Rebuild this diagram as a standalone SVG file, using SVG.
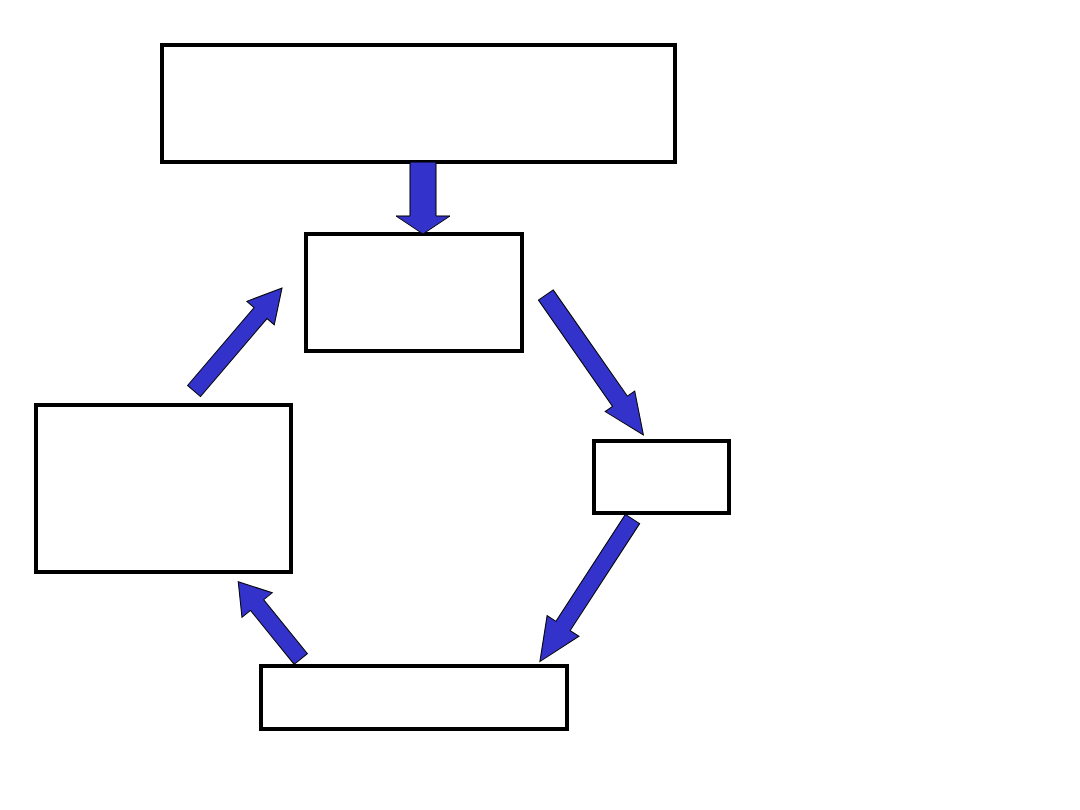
<svg xmlns="http://www.w3.org/2000/svg" width="1080" height="810" viewBox="0 0 1080 810">
<style>
.box{fill:#fff;stroke:#000;stroke-width:4}
.arr{fill:#3333cc;stroke:#000;stroke-width:1;stroke-linejoin:miter}
</style>
<rect width="1080" height="810" fill="#fff"/>
<g id="top"><rect class="box" x="162" y="45" width="513" height="117"/></g>
<g id="middle"><rect class="box" x="306" y="234" width="216" height="117"/></g>
<g id="right"><rect class="box" x="594" y="441" width="135" height="72"/></g>
<g id="bottom"><rect class="box" x="261" y="666" width="306" height="63"/></g>
<g id="left"><rect class="box" x="36" y="405" width="255" height="167"/></g>
<g id="connectors">
<polygon class="arr" transform="translate(423,162) rotate(90)" points="0,-13 54,-13 54,-27 72,0 54,27 54,13 0,13"/>
<polygon class="arr" transform="translate(194,391) rotate(-49.5)" points="0,-8.5 102.5,-8.5 102.5,-18 135.5,0 102.5,18 102.5,8.5 0,8.5"/>
<polygon class="arr" transform="translate(545.8,295) rotate(55.1)" points="0,-9 129.6,-9 129.6,-18 170.6,0 129.6,18 129.6,9 0,9"/>
<polygon class="arr" transform="translate(632.5,519) rotate(123)" points="0,-8.5 127.5,-8.5 127.5,-19 170,0 127.5,19 127.5,8.5 0,8.5"/>
<polygon class="arr" transform="translate(300.8,659) rotate(231)" points="0,-8.5 69.4,-8.5 69.4,-19.5 99.4,0 69.4,19.5 69.4,8.5 0,8.5"/>
</g>
</svg>
